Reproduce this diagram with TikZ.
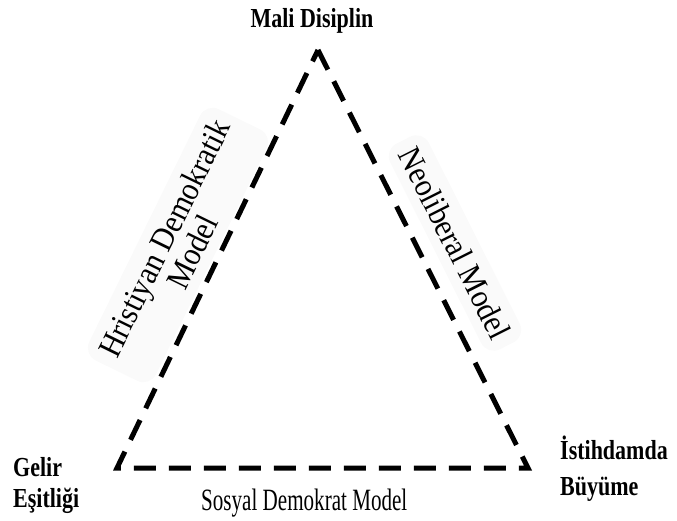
\documentclass[tikz,border=0pt]{standalone}
\usepackage{fontspec}
\setmainfont{Liberation Serif}
\newfontfamily\narrowfont[FakeStretch=0.68]{Liberation Serif}
\newfontfamily\cornerfont[FakeStretch=0.8]{Liberation Serif}
\newfontfamily\modelfont[FakeStretch=0.9]{Liberation Serif}
\usetikzlibrary{positioning}

\begin{document}
\begin{tikzpicture}[x=1pt,y=-1pt,
  corner/.style={font=\cornerfont\bfseries\fontsize{27.5}{31}\selectfont, align=left, inner sep=0pt},
  model/.style={font=\modelfont\fontsize{33}{31}\selectfont, align=center, fill=black!2, rounded corners=14pt, inner sep=10pt}]
  \useasboundingbox (0,0) rectangle (677,521);
  \coordinate (M) at (318,50);
  \coordinate (G) at (117,468);
  \coordinate (I) at (528,468);
  % labels along the sides, behind the triangle
  \node[model, rotate=63.9] (hdm) at (178,245) {Hristiyan Demokratik\\Model};
  \node[model, rotate=-63.3] (nlm) at (455,243) {Neoliberal Model};
  % the triangle
  \draw[line width=5pt, dash pattern=on 22pt off 13pt] (M)--(I)--(G)--cycle;
  % corners
  \node[corner, anchor=base] (mali) at (312,28) {Mali Disiplin};
  \node[corner, anchor=base west] (gelir) at (13,507) {Gelir\\Eşitliği};
  \node[corner, anchor=base west, font=\cornerfont\bfseries\fontsize{27.5}{36}\selectfont] (istih) at (560,495) {İstihdamda\\Büyüme};
  \node[font=\narrowfont\fontsize{31}{31}\selectfont, anchor=base west, inner sep=0pt] (sdm) at (201,510) {Sosyal Demokrat Model};
\end{tikzpicture}
\end{document}
